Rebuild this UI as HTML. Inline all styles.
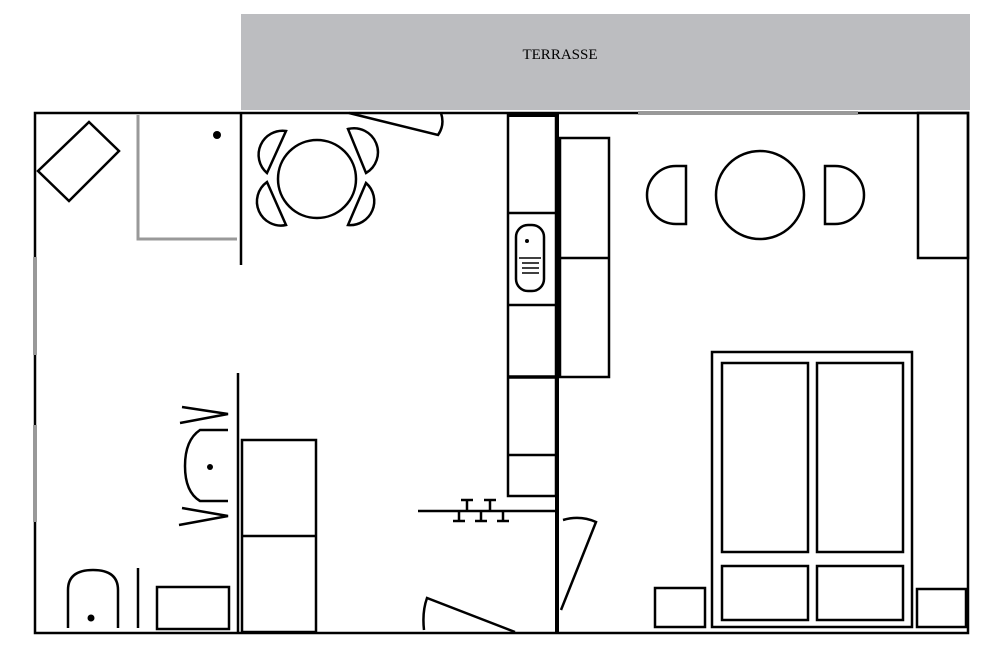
<!DOCTYPE html>
<html><head><meta charset="utf-8"><style>html,body{margin:0;padding:0;background:#fff}svg{display:block}</style></head>
<body>
<svg width="1000" height="650" viewBox="0 0 1000 650" xmlns="http://www.w3.org/2000/svg" fill="none" stroke="#000" stroke-width="2.5">
<rect x="241" y="14" width="729" height="96" fill="#bcbdc0" stroke="none"/>
<text x="560" y="59" font-family="Liberation Serif, serif" font-size="15" fill="#000" stroke="none" text-anchor="middle">TERRASSE</text>
<!-- outer walls -->
<rect x="35" y="113" width="933" height="520"/>
<line x1="638" y1="113" x2="858" y2="113" stroke="#999" stroke-width="4"/>
<line x1="35" y1="257" x2="35" y2="355" stroke="#999" stroke-width="4"/>
<line x1="35" y1="425" x2="35" y2="522" stroke="#999" stroke-width="4"/>
<!-- top-left -->
<polygon points="89,122 119,151 69,201 38,171"/>
<polyline points="138,115 138,239 237,239" stroke="#999" stroke-width="3"/>
<circle cx="217" cy="135" r="4" fill="#000" stroke="none"/>
<line x1="241" y1="113" x2="241" y2="265"/>
<line x1="238" y1="373" x2="238" y2="633"/>
<!-- dining table left -->
<circle cx="317" cy="179" r="39"/>
<path d="M286,131 A24,24 0 0 0 267,173 Z"/>
<path d="M267,182 A24,24 0 0 0 286,225 Z"/>
<path d="M348,129 A24,24 0 0 1 366,173 Z"/>
<path d="M366,183 A24,24 0 0 1 348,225 Z"/>
<path d="M349,113 L438,135 Q445,125 441,113"/>
<!-- kitchen -->
<line x1="557" y1="113" x2="557" y2="633" stroke-width="4"/>
<rect x="508" y="115" width="48" height="381"/>
<line x1="508" y1="115" x2="556" y2="115" stroke-width="4"/>
<line x1="508" y1="213" x2="556" y2="213"/>
<line x1="508" y1="305" x2="556" y2="305"/>
<line x1="508" y1="377" x2="556" y2="377" stroke-width="3.5"/>
<line x1="508" y1="455" x2="556" y2="455"/>
<rect x="560" y="138" width="49" height="239"/>
<line x1="560" y1="258" x2="609" y2="258"/>
<rect x="516" y="225" width="28" height="66" rx="12"/>
<circle cx="527" cy="241" r="2" fill="#000" stroke="none"/>
<g stroke-width="1.5"><line x1="519" y1="258" x2="541" y2="258"/><line x1="522" y1="263" x2="539" y2="263"/><line x1="522" y1="268" x2="539" y2="268"/><line x1="522" y1="273" x2="539" y2="273"/></g>
<!-- counter & stools -->
<line x1="418" y1="511" x2="556" y2="511"/>
<g><line x1="467" y1="500" x2="467" y2="511"/><line x1="461" y1="500" x2="473" y2="500"/>
<line x1="490" y1="500" x2="490" y2="511"/><line x1="484" y1="500" x2="496" y2="500"/>
<line x1="459" y1="511" x2="459" y2="521"/><line x1="453" y1="521" x2="465" y2="521"/>
<line x1="481" y1="511" x2="481" y2="521"/><line x1="475" y1="521" x2="487" y2="521"/>
<line x1="503" y1="511" x2="503" y2="521"/><line x1="497" y1="521" x2="509" y2="521"/></g>
<!-- doors -->
<path d="M515,632 L427,598 Q422,612 424,630"/>
<path d="M561,610 L596,522 Q580,515 563,520"/>
<!-- bathroom -->
<polyline points="182,407 228,414 180,423"/>
<polyline points="182,508 228,516 179,525"/>
<path d="M228,430 L200,430 Q185,440 185,466 Q185,492 200,501 L228,501"/>
<circle cx="210" cy="467" r="3" fill="#000" stroke="none"/>
<rect x="242" y="440" width="74" height="192"/>
<line x1="242" y1="536" x2="316" y2="536"/>
<path d="M68,628 L68,590 Q68,570 93,570 Q118,570 118,590 L118,628"/>
<circle cx="91" cy="618" r="3.5" fill="#000" stroke="none"/>
<line x1="138" y1="568" x2="138" y2="628"/>
<rect x="157" y="587" width="72" height="42"/>
<!-- right room -->
<circle cx="760" cy="195" r="44"/>
<path d="M686,166 L676,166 A29,29 0 0 0 676,224 L686,224 Z"/>
<path d="M825,166 L835,166 A29,29 0 0 1 835,224 L825,224 Z"/>
<rect x="918" y="113" width="50" height="145"/>
<rect x="712" y="352" width="200" height="275"/>
<rect x="722" y="363" width="86" height="189"/>
<rect x="817" y="363" width="86" height="189"/>
<rect x="722" y="566" width="86" height="54"/>
<rect x="817" y="566" width="86" height="54"/>
<rect x="655" y="588" width="50" height="39"/>
<rect x="917" y="589" width="49" height="38"/>
</svg>
</body></html>
